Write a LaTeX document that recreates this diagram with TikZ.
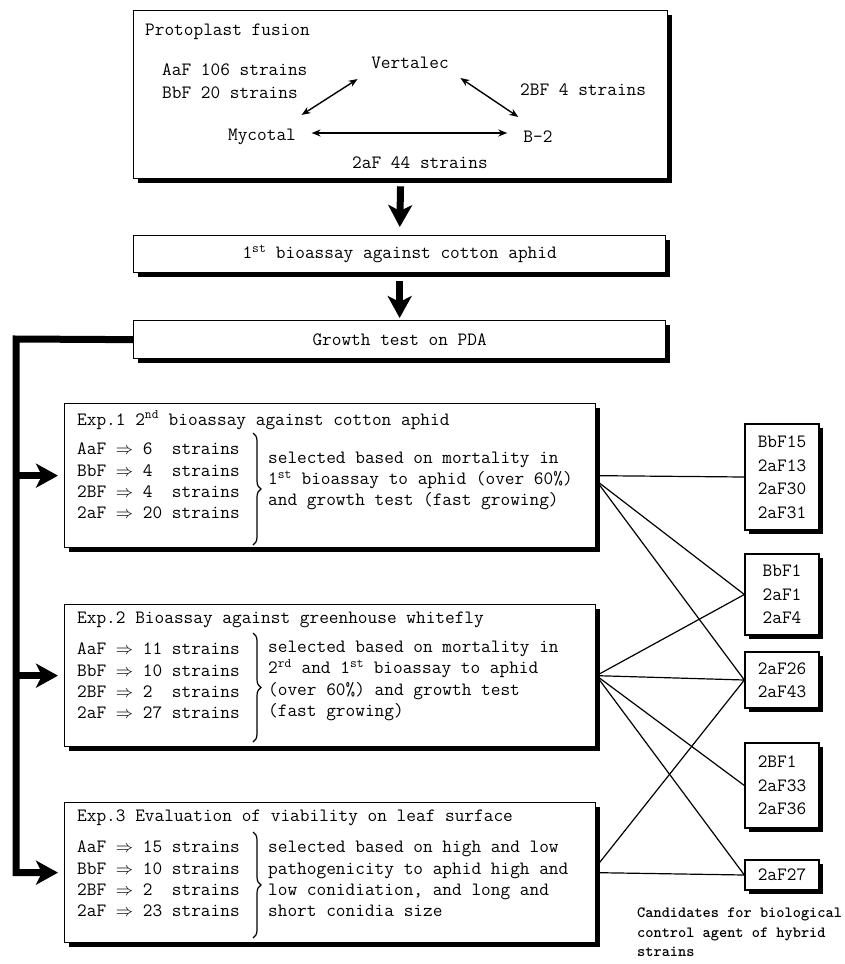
\documentclass[tikz,border=0pt]{standalone}
\usetikzlibrary{arrows.meta,shadows,decorations.pathreplacing}
\begin{document}
\begin{tikzpicture}[x=1pt,y=-1pt,
  every node/.style={font=\fontsize{18.8}{21.3}\ttfamily, inner sep=0pt},
  box/.style={draw, line width=1.3pt, fill=white, anchor=north west,
    drop shadow={shadow xshift=4pt, shadow yshift=-4pt, fill=black, opacity=1}},
  rbox/.style={draw, line width=1.3pt, fill=white, align=left,
    font=\fontsize{18.8}{23.5}\ttfamily, minimum width=74pt,
    drop shadow={shadow xshift=4pt, shadow yshift=-4pt, fill=black, opacity=1}},
  tarrow/.style={line width=1.4pt, {Stealth[length=9pt,width=7pt]}-{Stealth[length=9pt,width=7pt]}},
  bigarrow/.style={line width=7pt, -{Stealth[length=22pt,width=24pt,inset=6pt]}},
  thickline/.style={line width=7pt, line join=miter},
  conn/.style={line width=1.2pt},
  bracestyle/.style={line width=1.2pt, decorate, decoration={brace, amplitude=8pt}}
]
\useasboundingbox (0,0) rectangle (844,964);

% ---- top box
\node[box, minimum width=534pt, minimum height=168pt] (top) at (133,10) {};
\node[anchor=west] (pf) at (145,32) {Protoplast fusion};
\node[anchor=west, align=left, font=\fontsize{18.8}{23}\ttfamily] (st1) at (162,81.5) {AaF 106 strains\\BbF 20 strains};
\node (ver) at (410,63) {Vertalec};
\node[anchor=west] (st2) at (520,90) {2BF 4 strains};
\node (myc) at (262,137) {Mycotal};
\node (b2) at (538,137) {B-2};
\node (st3) at (420,163) {2aF 44 strains};
\draw[tarrow] ([xshift=5.5pt,yshift=14pt]myc.north east) -- ([xshift=-13.5pt,yshift=-10pt]ver.south west);
\draw[tarrow] ([xshift=11.5pt,yshift=-9pt]ver.south east) -- ([xshift=-5pt,yshift=14pt]b2.north west);
\draw[tarrow] ([xshift=15.5pt,yshift=4pt]myc.east) -- ([xshift=-16pt,yshift=4pt]b2.west);

% ---- first bioassay and growth test
\node[box, minimum width=532pt, minimum height=37pt] (b1) at (133,235) {};
\node (b1t) at (b1.center) {1\textsuperscript{st} bioassay against cotton aphid};
\node[box, minimum width=532pt, minimum height=38pt] (gr) at (133,320) {};
\node (grt) at (gr.center) {Growth test on PDA};
\draw[bigarrow, shorten <=7pt, shorten >=8pt] (top.south) -- (b1.north);
\draw[bigarrow, shorten <=8pt, shorten >=2pt] (b1.south) -- (gr.north);

% ---- experiment boxes
\node[box, minimum width=531pt, minimum height=144pt] (exp1) at (64,403) {};
\node[box, minimum width=531pt, minimum height=142pt] (exp2) at (64,604) {};
\node[box, minimum width=531pt, minimum height=140pt] (exp3) at (64,802) {};

% exp 1
\node[anchor=west] (h1) at (77,420) {Exp.1 2\textsuperscript{nd} bioassay against cotton aphid};
\node[anchor=west, align=left] (l1) at (77,481) {AaF $\Rightarrow$ 6\ \ strains\\BbF $\Rightarrow$ 4\ \ strains\\2BF $\Rightarrow$ 4\ \ strains\\2aF $\Rightarrow$ 20 strains};
\node[anchor=west, align=left] (d1) at (268,481) {selected based on mortality in\\1\textsuperscript{st} bioassay to aphid (over 60\%)\\and growth test (fast growing)};
\draw[bracestyle] (253,433) -- (253,545);

% exp 2
\node[anchor=west] (h2) at (77,620) {Exp.2 Bioassay against greenhouse whitefly};
\node[anchor=west, align=left] (l2) at (77,681) {AaF $\Rightarrow$ 11 strains\\BbF $\Rightarrow$ 10 strains\\2BF $\Rightarrow$ 2\ \ strains\\2aF $\Rightarrow$ 27 strains};
\node[anchor=west, align=left] (d2) at (268,681) {selected based on mortality in\\2\textsuperscript{rd} and 1\textsuperscript{st} bioassay to aphid\\(over 60\%) and growth test\\(fast growing)};
\draw[bracestyle] (253,633) -- (253,742);

% exp 3
\node[anchor=west] (h3) at (77,818) {Exp.3 Evaluation of viability on leaf surface};
\node[anchor=west, align=left] (l3) at (77,879) {AaF $\Rightarrow$ 15 strains\\BbF $\Rightarrow$ 10 strains\\2BF $\Rightarrow$ 2\ \ strains\\2aF $\Rightarrow$ 23 strains};
\node[anchor=west, align=left] (d3) at (268,879) {selected based on high and low\\pathogenicity to aphid high and\\low conidiation, and long and\\short conidia size};
\draw[bracestyle] (253,832) -- (253,938);

% ---- left connector
\coordinate (lc) at (16,339);
\draw[thickline, -{Stealth[length=22pt,width=24pt,inset=6pt]}, shorten >=6pt] (gr.west) -- (lc) |- (exp3.west);
\draw[bigarrow, shorten >=6pt] (lc |- exp1.west) -- (exp1.west);
\draw[bigarrow, shorten >=6pt] (lc |- exp2.west) -- (exp2.west);

% ---- result boxes
\node[rbox, minimum height=106pt] (A) at (782,477) {BbF15\\2aF13\\2aF30\\2aF31};
\node[rbox, minimum height=81pt] (B) at (782,594.5) {BbF1\\2aF1\\2aF4};
\node[rbox, minimum height=56pt] (C) at (782,680) {2aF26\\2aF43};
\node[rbox, minimum height=85pt] (D) at (782,785.5) {2BF1\\2aF33\\2aF36};
\node[rbox, minimum height=30pt] (E) at (782,875) {2aF27};

\node[anchor=north west, align=left, font=\fontsize{15.6}{19.5}\ttfamily\bfseries] (cap) at (637,908)
  {Candidates for biological\\control agent of hybrid\\strains};

% ---- connectors
\draw[conn] (exp1.east) -- (A.west);
\draw[conn] ([yshift=-5pt]exp1.east) -- (B.west);
\draw[conn] ([yshift=-5pt]exp1.east) -- (C.west);
\draw[conn] (exp2.east) -- (B.west);
\draw[conn] (exp2.east) -- (C.west);
\draw[conn] (exp2.east) -- (D.west);
\draw[conn] (exp2.east) -- (E.west);
\draw[conn] ([yshift=6pt]exp3.east) -- (C.west);
\draw[conn] (exp3.east) -- (E.west);
\end{tikzpicture}
\end{document}
